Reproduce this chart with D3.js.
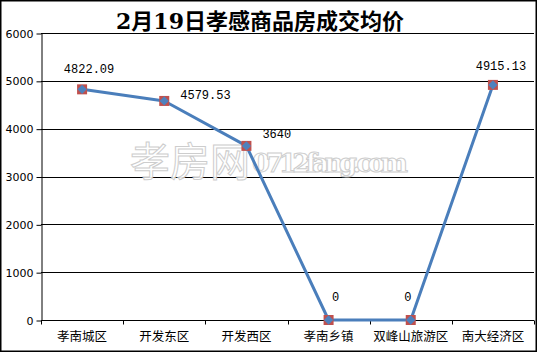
<!DOCTYPE html>
<html lang="zh">
<head>
<meta charset="utf-8">
<style>
  body { margin: 0; background: #fff; }
  svg { display: block; }
</style>
<title>孝感商品房成交均价</title>
</head>
<body>
<div id="chart"></div>
<script src="https://d3js.org/d3.v7.min.js"></script>
<script>
const districts = ["孝南城区", "开发东区", "开发西区", "孝南乡镇", "双峰山旅游区", "南大经济区"];
const prices = [4822.09, 4579.53, 3640, 0, 0, 4915.13];
const priceLabels = ["4822.09", "4579.53", "3640", "0", "0", "4915.13"];
const yTicks = [0, 1000, 2000, 3000, 4000, 5000, 6000];

const w = 537, h = 352;
const plotLeft = 41, plotRight = 534, plotTop = 33, plotBottom = 320;

// where each value label sits relative to its point
const labelOffsets = [[7, -16], [16, -2], [16, -8], [7, -19], [-3, -19], [8, -15]];

const svg = d3.select("#chart").append("svg")
    .attr("width", w)
    .attr("height", h);

svg.append("rect")
    .attr("x", 0.75).attr("y", 0.75)
    .attr("width", w - 1.5).attr("height", h - 1.5)
    .attr("fill", "#fff")
    .attr("stroke", "#000")
    .attr("stroke-width", 1.5);

const x = d3.scaleBand().domain(districts).range([plotLeft, plotRight]);
const y = d3.scaleLinear().domain([0, 6000]).range([plotBottom, plotTop]);

// title
svg.append("text")
    .attr("x", 260).attr("y", 29)
    .attr("text-anchor", "middle")
    .attr("font-family", "'DejaVu Serif', 'Noto Sans CJK SC', serif")
    .attr("font-weight", "bold")
    .attr("font-size", 22)
    .text("2月19日孝感商品房成交均价");

// grid
svg.append("g").selectAll("line").data(yTicks.filter(d => d > 0)).enter().append("line")
    .attr("x1", plotLeft).attr("x2", plotRight)
    .attr("y1", d => Math.round(y(d)) + 0.5)
    .attr("y2", d => Math.round(y(d)) + 0.5)
    .attr("stroke", "#000");

// y axis
const yAxis = svg.append("g")
    .attr("transform", "translate(" + (plotLeft + 0.5) + ",0.5)")
    .call(d3.axisLeft(y).tickValues(yTicks).tickFormat(d3.format("d"))
        .tickSize(5).tickSizeOuter(0).tickPadding(3));
yAxis.selectAll("text")
    .attr("font-family", "'DejaVu Sans', sans-serif")
    .attr("font-size", 11)
    .attr("fill", "#000");

// x axis
const xAxis = svg.append("g")
    .attr("transform", "translate(0," + (plotBottom + 0.5) + ")");
xAxis.append("line")
    .attr("x1", plotLeft).attr("x2", plotRight)
    .attr("stroke", "#000");
xAxis.selectAll("line.tick").data(districts.concat(["end"])).enter().append("line")
    .attr("class", "tick")
    .attr("x1", (d, i) => Math.round(plotLeft + i * x.bandwidth()) + 0.5)
    .attr("x2", (d, i) => Math.round(plotLeft + i * x.bandwidth()) + 0.5)
    .attr("y1", 0).attr("y2", 4)
    .attr("stroke", "#000");
xAxis.selectAll("text").data(districts).enter().append("text")
    .attr("x", d => x(d) + x.bandwidth() / 2)
    .attr("y", 20)
    .attr("text-anchor", "middle")
    .attr("font-family", "'Noto Sans CJK SC', sans-serif")
    .attr("font-size", 12.5)
    .text(d => d);

// watermark
const wm = svg.append("g")
    .attr("fill", "#fff")
    .attr("stroke", "#c8c8c8")
    .attr("stroke-width", 1)
    .attr("opacity", 0.9);
wm.append("text")
    .attr("x", 130).attr("y", 176)
    .attr("font-family", "'Noto Sans CJK SC', sans-serif")
    .attr("font-size", 40)
    .text("孝房网");
wm.append("text")
    .attr("x", 252).attr("y", 172)
    .attr("font-family", "'DejaVu Serif', serif")
    .attr("font-weight", "bold")
    .attr("font-size", 26)
    .attr("textLength", 156)
    .text("0712fang.com");

const pts = prices.map((v, i) => [x(districts[i]) + x.bandwidth() / 2, y(v)]);

svg.append("path")
    .datum(pts)
    .attr("d", d3.line())
    .attr("fill", "none")
    .attr("stroke", "#4a7ebb")
    .attr("stroke-width", 3)
    .attr("stroke-linejoin", "round");

svg.append("g").selectAll("rect").data(pts).enter().append("rect")
    .attr("x", d => d[0] - 5).attr("y", d => d[1] - 5)
    .attr("width", 10).attr("height", 10)
    .attr("fill", "#c0504d");

svg.append("g").selectAll("path").data(pts).enter().append("path")
    .attr("d", d3.symbol().type(d3.symbolDiamond2).size(55))
    .attr("transform", d => "translate(" + d[0] + "," + d[1] + ")")
    .attr("fill", "#4f81bd");

svg.append("g").selectAll("text").data(pts).enter().append("text")
    .attr("x", (d, i) => d[0] + labelOffsets[i][0])
    .attr("y", (d, i) => d[1] + labelOffsets[i][1])
    .attr("text-anchor", (d, i) => i === 1 || i === 2 ? "start" : "middle")
    .attr("font-family", "'Liberation Mono', monospace")
    .attr("font-size", 12)
    .text((d, i) => priceLabels[i]);
</script>
</body>
</html>
